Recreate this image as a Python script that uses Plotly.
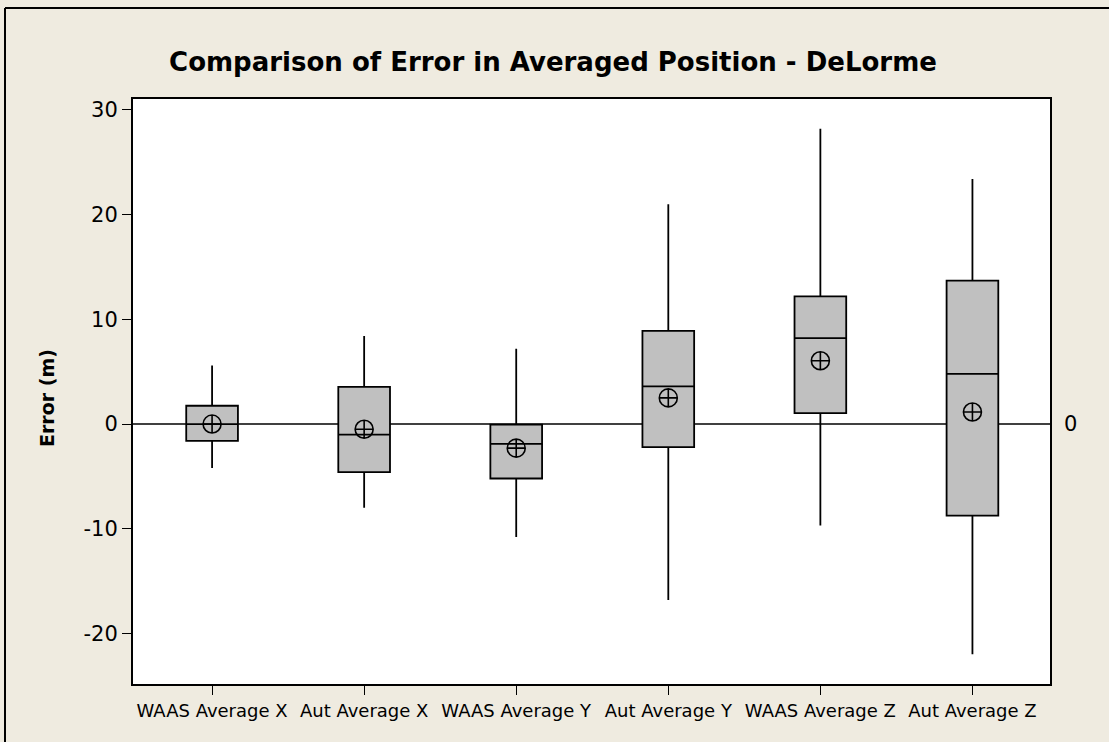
import plotly.graph_objects as go

categories = ["WAAS Average X", "Aut Average X", "WAAS Average Y",
              "Aut Average Y", "WAAS Average Z", "Aut Average Z"]
whisker_low = [-4.2, -8.0, -10.8, -16.8, -9.7, -22.0]
q1 = [-1.6, -4.6, -5.2, -2.2, 1.05, -8.75]
median = [0.0, -1.0, -1.9, 3.6, 8.2, 4.8]
q3 = [1.75, 3.55, -0.05, 8.9, 12.2, 13.7]
whisker_high = [5.6, 8.4, 7.2, 21.0, 28.2, 23.4]
means = [0.0, -0.5, -2.3, 2.5, 6.05, 1.15]
yticks = [-20, -10, 0, 10, 20, 30]

W, H = 1109, 742
L, R, T, B = 133, 1050, 99, 684
pw, ph = R - L, B - T

def px_x(x):
    return (x - L) / pw

def px_y(y):
    return (B - y) / ph

fig = go.Figure()
fig.add_trace(go.Box(
    x=categories, q1=q1, median=median, q3=q3,
    lowerfence=whisker_low, upperfence=whisker_high,
    boxpoints=False, whiskerwidth=0, width=0.34,
    fillcolor="#C0C0C0", line=dict(color="black", width=1.8),
    showlegend=False, hoverinfo="skip",
))
fig.add_trace(go.Scatter(
    x=categories, y=means, mode="markers",
    marker=dict(symbol="circle-cross-open", size=18, color="black",
                line=dict(width=1.6, color="black")),
    showlegend=False, hoverinfo="skip",
))

fig.update_layout(
    width=W, height=H,
    margin=dict(l=L, r=W - R, t=T, b=H - B, pad=0),
    paper_bgcolor="#EFEBE0", plot_bgcolor="white",
    font=dict(family="DejaVu Sans", color="black"),
    title=dict(text="<b>Comparison of Error in Averaged Position - DeLorme</b>",
               x=553 / W, xanchor="center", xref="container",
               y=1 - 62 / H, yanchor="middle", yref="container",
               font=dict(size=26, family="DejaVu Sans", color="black")),
    xaxis=dict(type="category", range=[-0.52, 5.51],
               showline=True, mirror=True, linecolor="black",
               linewidth=2, ticks="outside", ticklen=9, tickcolor="black",
               tickwidth=1, showgrid=False, zeroline=False,
               tickfont=dict(size=18, family="DejaVu Sans")),
    yaxis=dict(range=[-24.83, 31.05], tickvals=yticks,
               ticktext=[str(v) for v in yticks],
               showline=True, mirror=True, linecolor="black", linewidth=2,
               ticks="outside", ticklen=9, tickcolor="black", tickwidth=1,
               showgrid=False, zeroline=True, zerolinecolor="#404040",
               zerolinewidth=1.5, tickfont=dict(size=21, family="DejaVu Sans")),
    annotations=[
        dict(text="<b>Error (m)</b>", x=px_x(47), y=px_y(398), xref="paper",
             yref="paper", textangle=-90, showarrow=False,
             xanchor="center", yanchor="middle",
             font=dict(size=19, family="DejaVu Sans", color="black")),
        dict(text="0", x=px_x(1062), y=0, xref="paper", yref="y",
             xanchor="left", yanchor="middle", showarrow=False,
             font=dict(size=21, family="DejaVu Sans", color="black")),
    ],
    shapes=[
        dict(type="line", xref="paper", yref="paper", x0=px_x(5), x1=px_x(1120),
             y0=px_y(8), y1=px_y(8), line=dict(color="black", width=2)),
        dict(type="line", xref="paper", yref="paper", x0=px_x(5), x1=px_x(5),
             y0=px_y(8), y1=px_y(760), line=dict(color="black", width=2)),
    ],
)

fig.write_html("out.html", config={"displayModeBar": False},
               post_script="document.body.style.margin='0';"
                           "document.body.style.overflow='hidden';")
